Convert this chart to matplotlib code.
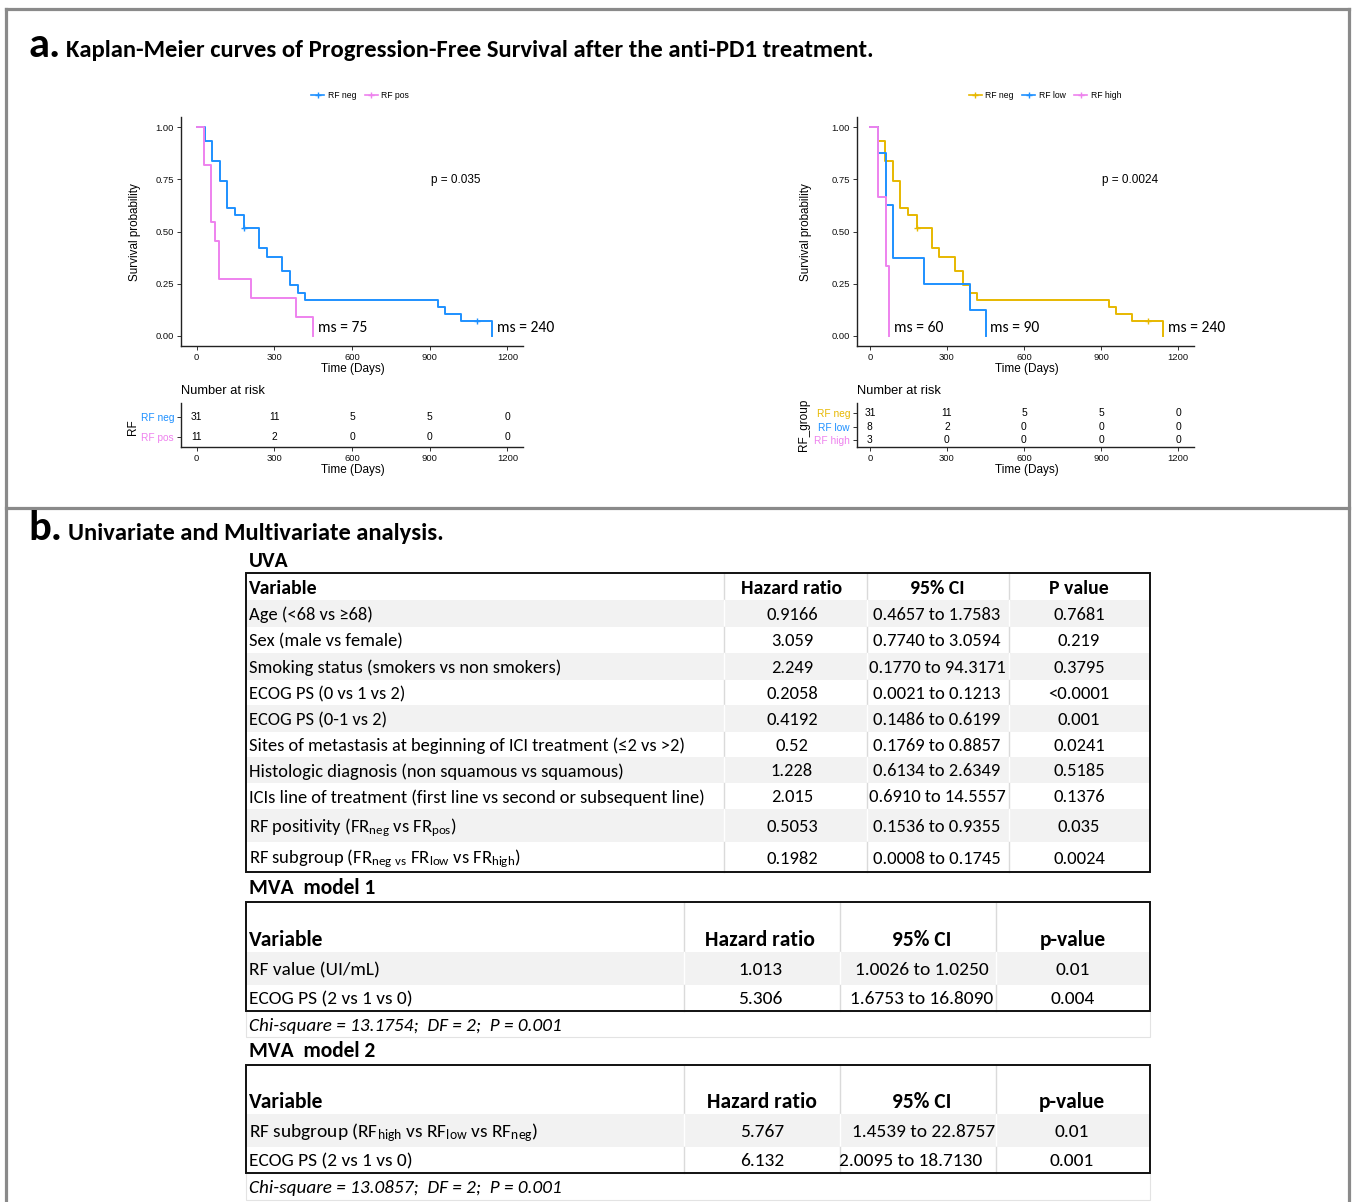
import matplotlib
matplotlib.use('Agg')
import matplotlib.pyplot as plt
from matplotlib.patches import Rectangle
from matplotlib.lines import Line2D
from matplotlib import font_manager

# ---------------- data ----------------
km_times_neg = [0, 32, 60, 89, 118, 148, 182, 241, 270, 330, 361, 390, 418, 930, 960, 1020, 1142]
km_surv_neg = [1.0, 0.935, 0.839, 0.742, 0.613, 0.581, 0.516, 0.419, 0.380, 0.311, 0.245, 0.207,
               0.174, 0.139, 0.105, 0.070, 0.0]
censor_times_neg = [182, 1081]
censor_surv_neg = [0.516, 0.070]
km_times_pos = [0, 30, 57, 72, 85, 210, 385, 449]
km_surv_pos = [1.0, 0.818, 0.545, 0.455, 0.273, 0.182, 0.091, 0.0]
km_times_low = [0, 32, 61, 91, 211, 391, 451]
km_surv_low = [1.0, 0.875, 0.625, 0.375, 0.25, 0.125, 0.0]
km_times_high = [0, 30, 61, 75]
km_surv_high = [1.0, 0.667, 0.333, 0.0]

risk_times = [0, 300, 600, 900, 1200]
risk_neg = [31, 11, 5, 5, 0]
risk_pos = [11, 2, 0, 0, 0]
risk_low = [8, 2, 0, 0, 0]
risk_high = [3, 0, 0, 0, 0]

median_neg, median_pos, median_low, median_high = 240, 75, 90, 60
p_left = 'p = 0.035'
p_right = 'p = 0.0024'

uva_header = ['Variable', 'Hazard ratio', '95% CI', 'P value']
uva_variables = ['Age (<68 vs \u226568)', 'Sex (male vs female)', 'Smoking status (smokers vs non smokers)',
                 'ECOG PS (0 vs 1 vs 2)', 'ECOG PS (0-1 vs 2)',
                 'Sites of metastasis at beginning of ICI treatment (\u22642 vs >2)',
                 'Histologic diagnosis (non squamous vs squamous)',
                 'ICIs line of treatment (first line vs second or subsequent line)',
                 r'RF positivity (FR$_{neg}$ vs FR$_{pos}$)',
                 r'RF subgroup (FR$_{neg\ vs}$ FR$_{low}$ vs FR$_{high}$)']
uva_hr = ['0.9166', '3.059', '2.249', '0.2058', '0.4192', '0.52', '1.228', '2.015', '0.5053', '0.1982']
uva_ci = ['0.4657 to 1.7583', '0.7740 to 3.0594', '0.1770 to 94.3171', '0.0021 to 0.1213',
          '0.1486 to 0.6199', '0.1769 to 0.8857', '0.6134 to 2.6349', '0.6910 to 14.5557',
          '0.1536 to 0.9355', '0.0008 to 0.1745']
uva_p = ['0.7681', '0.219', '0.3795', '<0.0001', '0.001', '0.0241', '0.5185', '0.1376', '0.035', '0.0024']

mva_header = ['Variable', 'Hazard ratio', '95% CI', 'p-value']
mva1_variables = ['RF value (UI/mL)', 'ECOG PS (2 vs 1 vs 0)']
mva1_hr = ['1.013', '5.306']
mva1_ci = ['1.0026 to 1.0250', '1.6753 to 16.8090']
mva1_p = ['0.01', '0.004']
mva1_note = 'Chi-square = 13.1754;  DF = 2;  P = 0.001'
mva2_variables = [r'RF subgroup (RF$_{high}$ vs RF$_{low}$ vs RF$_{neg}$)', 'ECOG PS (2 vs 1 vs 0)']
mva2_hr = ['5.767', '6.132']
mva2_ci = ['1.4539 to 22.8757', '2.0095 to 18.7130']
mva2_p = ['0.01', '0.001']
mva2_note = 'Chi-square = 13.0857;  DF = 2;  P = 0.001'

# ---------------- setup ----------------
avail = {f.name for f in font_manager.fontManager.ttflist}
TF = 'Carlito' if 'Carlito' in avail else ('Lato' if 'Lato' in avail else 'DejaVu Sans')
KF = 'Liberation Sans' if 'Liberation Sans' in avail else 'DejaVu Sans'
plt.rcParams['mathtext.default'] = 'regular'
plt.rcParams['font.family'] = [KF, 'DejaVu Sans']

BLUE = '#1E90FF'
PINK = '#EE82EE'
YELLOW = '#E7B800'

W, H = 1353, 1202
fig = plt.figure(figsize=(W / 100, H / 100), dpi=100)
renderer = fig.canvas.get_renderer()

bg = fig.add_axes([0, 0, 1, 1])
bg.set_xlim(0, W)
bg.set_ylim(H, 0)
bg.axis('off')


def ax_px(x0, y0, x1, y1):
    return fig.add_axes([x0 / W, 1 - y1 / H, (x1 - x0) / W, (y1 - y0) / H])


def fit(s, target, family, **kw):
    t = fig.text(0, 0, s, fontsize=10, family=family, **kw)
    w = t.get_window_extent(renderer).width
    t.remove()
    return 10 * target / w


# ---------------- frame ----------------
fc = '#8a8a8a'
bg.plot([6, 1349], [9, 9], color=fc, lw=2.3, solid_capstyle='projecting')
bg.plot([6, 1349], [508, 508], color=fc, lw=2.3)
bg.plot([6, 6], [9, H + 5], color=fc, lw=2.3)
bg.plot([1349, 1349], [9, H + 5], color=fc, lw=2.3)

# ---------------- titles ----------------
fs_a = fit('a.', 32, [TF], fontweight='bold')
fs_ta = fit('Kaplan-Meier curves of Progression-Free Survival after the anti-PD1 treatment.', 806, [TF],
            fontweight='bold')
bg.text(28, 57, 'a.', fontsize=fs_a, fontweight='bold', family=[TF], va='baseline')
bg.text(66, 57, 'Kaplan-Meier curves of Progression-Free Survival after the anti-PD1 treatment.',
        fontsize=fs_ta, fontweight='bold', family=[TF], va='baseline')
fs_tb = fit('Univariate and Multivariate analysis.', 375, [TF], fontweight='bold')
bg.text(28, 540, 'b.', fontsize=fs_a, fontweight='bold', family=[TF], va='baseline')
bg.text(68, 540, 'Univariate and Multivariate analysis.', fontsize=fs_tb, fontweight='bold',
        family=[TF], va='baseline')

# ---------------- KM panels ----------------
fs_ms = fit('ms = 240', 57, [TF])


def style_axis(ax):
    for s in ['top', 'right']:
        ax.spines[s].set_visible(False)
    for s in ['left', 'bottom']:
        ax.spines[s].set_linewidth(1.0)
        ax.spines[s].set_color('#222222')
    ax.tick_params(length=3, width=0.7, color='#333333', labelsize=6.8, labelcolor='#111111', pad=2)


def km_panel(box, xlim, groups, ptext, ms_items, legend_cx, ylabel_x, risk_box, risk_groups):
    ax = ax_px(*box)
    style_axis(ax)
    for name, t, s, c, ct, cs in groups:
        ax.step(t, s, where='post', color=c, lw=1.4)
        if ct:
            ax.plot(ct, cs, '+', color=c, ms=5, mew=1.0)
    ax.set_xlim(*xlim)
    ax.set_ylim(-0.048, 1.048)
    ax.set_xticks(risk_times)
    ax.set_yticks([0, 0.25, 0.5, 0.75, 1.0])
    ax.set_yticklabels(['0.00', '0.25', '0.50', '0.75', '1.00'])
    ax.text(905, 0.746, ptext, fontsize=8.5, family=KF, va='center', ha='left')
    for xm, label in ms_items:
        ax.text(xm, 0.04, label, fontsize=fs_ms, family=TF, va='center', ha='left')
    handles = [Line2D([], [], color=c, lw=1.2, marker='+', ms=5) for _, _, _, c, _, _ in groups]
    ax.legend(handles, [g[0] for g in groups], loc='center', bbox_to_anchor=(legend_cx / W, 1 - 95.5 / H),
              bbox_transform=fig.transFigure, ncol=len(groups), frameon=False, fontsize=6.2,
              handlelength=1.5, handletextpad=0.4, columnspacing=1.0)
    bg.text(ylabel_x, 232, 'Survival probability', rotation=90, fontsize=8.4, ha='center', va='center')
    bg.text((box[0] + box[2]) / 2 + 1, 369, 'Time (Days)', fontsize=8.5, ha='center', va='center')

    # risk table
    rx = ax_px(*risk_box)
    style_axis(rx)
    n = len(risk_groups)
    for i, (name, vals, c) in enumerate(risk_groups):
        for t, v in zip(risk_times, vals):
            rx.text(t, i, str(v), ha='center', va='center', fontsize=7.4)
    rx.set_xlim(*xlim)
    if n == 2:
        rx.set_ylim(1.47, -0.665)
    else:
        rx.set_ylim(2.53, -0.78)
    rx.set_yticks(range(n))
    rx.set_yticklabels([g[0] for g in risk_groups], fontsize=7.3)
    for lab, g in zip(rx.get_yticklabels(), risk_groups):
        lab.set_color(g[2])
    rx.set_xticks(risk_times)
    bg.text(risk_box[0], 391.5, 'Number at risk', fontsize=9.3, ha='left', va='center')
    bg.text((risk_box[0] + risk_box[2]) / 2 + 1, 470, 'Time (Days)', fontsize=8.5, ha='center', va='center')
    return ax, rx


km_panel((181, 117, 523, 346), (-60, 1260),
         [('RF neg', km_times_neg, km_surv_neg, BLUE, censor_times_neg, censor_surv_neg),
          ('RF pos', km_times_pos, km_surv_pos, PINK, None, None)],
         p_left,
         [(468, 'ms = %d' % median_pos), (1160, 'ms = %d' % median_neg)],
         360, 135,
         (181, 403, 523, 447),
         [('RF neg', risk_neg, BLUE), ('RF pos', risk_pos, PINK)])
bg.text(133, 427, 'RF', rotation=90, fontsize=8.5, ha='center', va='center')

km_panel((857, 117, 1194, 346), (-50, 1262),
         [('RF neg', km_times_neg, km_surv_neg, YELLOW, censor_times_neg, censor_surv_neg),
          ('RF low', km_times_low, km_surv_low, BLUE, None, None),
          ('RF high', km_times_high, km_surv_high, PINK, None, None)],
         p_right,
         [(93, 'ms = %d' % median_high), (467, 'ms = %d' % median_low), (1160, 'ms = %d' % median_neg)],
         1045, 806,
         (857, 403, 1194, 447),
         [('RF neg', risk_neg, YELLOW), ('RF low', risk_low, BLUE), ('RF high', risk_high, PINK)])
bg.text(804, 425, 'RF_group', rotation=90, fontsize=8.5, ha='center', va='center')

# ---------------- tables ----------------
SHADE = '#f2f2f2'


def draw_table(bounds, xl, xr, seps, shaded, header, head_base, cols, centers, fs_body, fs_head,
               ci_centers=None):
    n = len(bounds) - 1
    for i in range(n):
        y0, y1 = bounds[i], bounds[i + 1]
        if i in shaded:
            bg.add_patch(Rectangle((xl, y0), xr - xl, y1 - y0, facecolor=SHADE, edgecolor='none', zorder=1))
            sc = 'white'
        else:
            sc = '#dadada'
        for s in seps:
            bg.plot([s, s], [y0, y1], color=sc, lw=1.0, zorder=2)
    bg.add_patch(Rectangle((xl, bounds[0]), xr - xl, bounds[-1] - bounds[0], fill=False,
                           edgecolor='#111111', lw=1.4, zorder=3))
    bg.text(xl + 3, head_base, header[0], fontsize=fs_head, fontweight='bold', family=TF,
            ha='left', va='baseline', zorder=4)
    for j in range(3):
        bg.text(centers[j], head_base, header[j + 1], fontsize=fs_head, fontweight='bold', family=TF,
                ha='center', va='baseline', zorder=4)
    variables, hr, ci, p = cols
    for i in range(len(variables)):
        yc = (bounds[i + 1] + bounds[i + 2]) / 2 + 6.5
        fam = TF if '$' in variables[i] else [TF, 'DejaVu Sans']
        bg.text(xl + 3, yc, variables[i], fontsize=fs_body, family=fam, ha='left', va='baseline', zorder=4)
        bg.text(centers[0], yc, hr[i], fontsize=fs_body, family=TF, ha='center', va='baseline', zorder=4)
        cx = ci_centers[i] if ci_centers else centers[1]
        bg.text(cx, yc, ci[i], fontsize=fs_body, family=TF, ha='center', va='baseline', zorder=4)
        bg.text(centers[2], yc, p[i], fontsize=fs_body, family=TF, ha='center', va='baseline', zorder=4)


fs_uva = fit('ICIs line of treatment (first line vs second or subsequent line)', 458, [TF])
fs_uvah = fit('Hazard ratio', 101, [TF], fontweight='bold')
fs_lab = fit('MVA  model 1', 127, [TF], fontweight='bold')
bg.text(249, 567, 'UVA', fontsize=fs_lab, fontweight='bold', family=TF, va='baseline')
draw_table([573, 600, 627, 653, 680, 705, 732, 757, 783, 809, 842, 872], 246, 1150, [724, 867, 1009],
           {1, 3, 5, 7, 9}, uva_header, 594, (uva_variables, uva_hr, uva_ci, uva_p), [792, 937, 1079],
           fs_uva, fs_uvah)

fs_mva = fit('ECOG PS (2 vs 1 vs 0)', 164, [TF])
fs_mvah = fit('Hazard ratio', 110, [TF], fontweight='bold')
fs_note = fit(mva1_note, 311, [TF], style='italic')

bg.text(249, 894, 'MVA  model 1', fontsize=fs_lab, fontweight='bold', family=TF, va='baseline')
draw_table([902, 952, 985, 1011], 246, 1150, [684, 840, 996], {1}, mva_header, 946,
           (mva1_variables, mva1_hr, mva1_ci, mva1_p), [760, 922, 1073], fs_mva, fs_mvah)
bg.add_patch(Rectangle((246, 1011), 904, 26, fill=False, edgecolor='#e3e3e3', lw=0.8))
bg.text(249, 1031, mva1_note, fontsize=fs_note, style='italic', family=TF, va='baseline')

bg.text(249, 1057, 'MVA  model 2', fontsize=fs_lab, fontweight='bold', family=TF, va='baseline')
draw_table([1065, 1114, 1147, 1173], 246, 1150, [684, 840, 996], {1}, mva_header, 1108,
           (mva2_variables, mva2_hr, mva2_ci, mva2_p), [762, 922, 1072], fs_mva, fs_mvah,
           ci_centers=[924, 911])
bg.add_patch(Rectangle((246, 1173), 904, 27, fill=False, edgecolor='#e3e3e3', lw=0.8))
bg.text(249, 1193, mva2_note, fontsize=fs_note, style='italic', family=TF, va='baseline')

fig.savefig('out.png', dpi=100)
